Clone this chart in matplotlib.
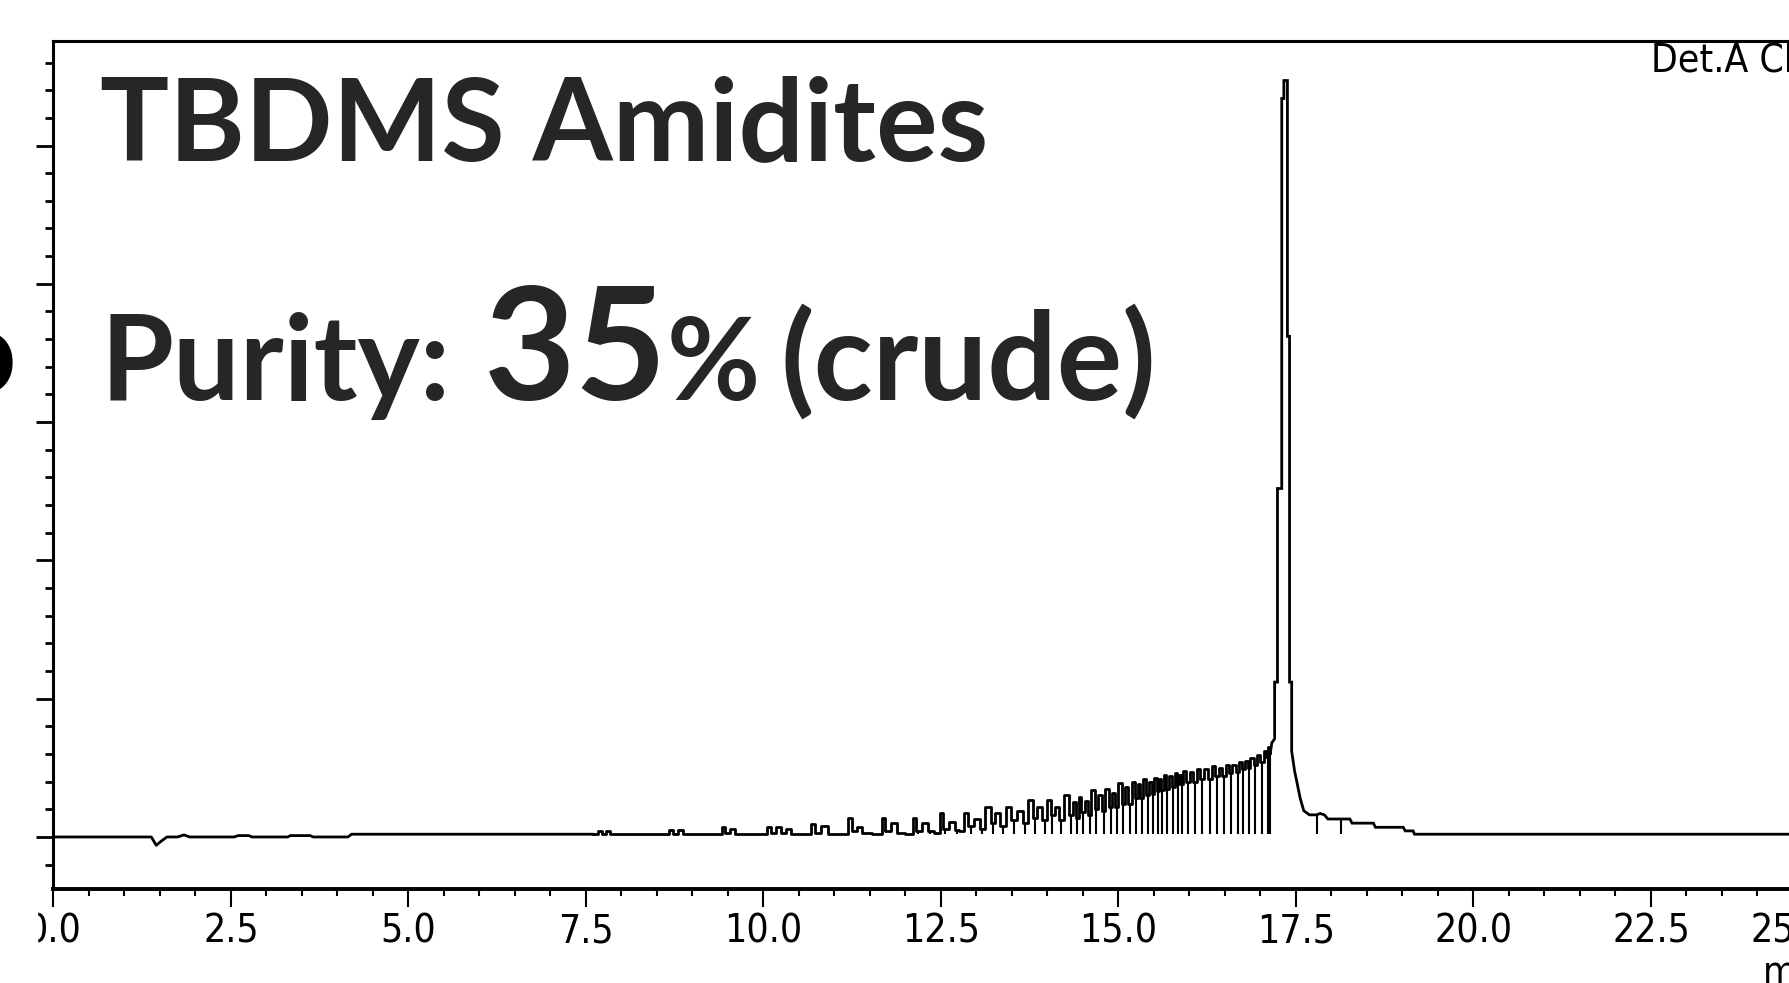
import numpy as np
import matplotlib.pyplot as plt
from matplotlib import font_manager
from matplotlib.ticker import MultipleLocator
from matplotlib.patches import Rectangle

W, H = 1790, 983
slide = ['Lato', 'Open Sans', 'DejaVu Sans']
ink = '#262626'

# baseline section (min, signal)
base_t = [0.0, 1.38, 1.45, 1.52, 1.60, 1.75, 1.84, 1.92, 2.55, 2.60, 2.75, 2.80,
          3.30, 3.34, 3.62, 3.66, 4.15, 4.20, 7.60]
base_y = [0, 0, -6, -3, 0, 0, 1.5, 0, 0, 1, 1, 0, 0, 1, 1, 0, 0, 2, 2]

# failure-sequence ladder: peak tops and the valleys after them
peak_t = [7.70, 7.82, 8.70, 8.84, 9.44, 9.58, 10.08, 10.22, 10.36, 10.70, 10.88,
          11.22, 11.36, 11.69, 11.85, 12.13, 12.29, 12.51, 12.67, 12.85, 13.01,
          13.17, 13.29, 13.45, 13.61, 13.77, 13.89, 14.02, 14.13, 14.27, 14.38,
          14.46, 14.55, 14.64, 14.74, 14.84, 14.93, 15.02, 15.11, 15.21, 15.29,
          15.37, 15.45, 15.52, 15.59, 15.65, 15.73, 15.81, 15.87, 15.93, 16.03,
          16.13, 16.23, 16.34, 16.44, 16.53, 16.63, 16.72, 16.80, 16.88, 16.97,
          17.07, 17.12]
peak_y = [4.5, 4.5, 5, 5, 7, 6, 7, 7, 6, 9.5, 8,
          14, 7, 14, 10, 14, 10, 17, 11, 17, 13,
          22, 17, 22, 19, 27, 22, 27, 22, 30, 25,
          29, 26, 34, 30, 35, 32, 39, 36, 40, 38,
          42, 40, 43, 42, 45, 44, 46, 45, 48, 47,
          49, 49, 51, 50, 52, 52, 54, 55, 57, 59,
          62, 65]
valley_t = [7.75, 7.87, 8.75, 8.89, 9.49, 9.63, 10.13, 10.27, 10.41, 10.75, 10.93,
            11.27, 11.41, 11.74, 11.90, 12.18, 12.34, 12.56, 12.72, 12.92, 13.08,
            13.23, 13.37, 13.53, 13.69, 13.83, 13.96, 14.07, 14.19, 14.33, 14.42,
            14.50, 14.60, 14.69, 14.79, 14.89, 14.98, 15.07, 15.16, 15.25, 15.33,
            15.41, 15.49, 15.56, 15.62, 15.69, 15.77, 15.84, 15.90, 15.98, 16.08,
            16.18, 16.29, 16.39, 16.49, 16.58, 16.68, 16.76, 16.84, 16.93, 17.02,
            17.10, 17.14]
valley_y = [2, 2, 2.5, 2, 3, 2, 3, 3, 2, 3, 2,
            4, 3, 4, 3, 4, 4, 6, 5, 8, 6,
            10, 8, 12, 10, 14, 12, 16, 12, 16, 14,
            18, 16, 20, 19, 22, 22, 24, 24, 28, 28,
            30, 31, 33, 34, 35, 36, 38, 38, 40, 40,
            42, 42, 44, 44, 46, 47, 49, 50, 52, 54,
            58, 61]
# baseline feet in front of the isolated early peaks
foot_t = [7.65, 8.65, 9.39, 10.03, 10.65, 11.17, 11.64, 12.08, 12.46, 12.80]
foot_y = [2, 2, 2, 2, 2, 2, 2, 2, 3, 4]

# main peak and its tail (stepped detector trace)
main_t = [17.16, 17.20, 17.20, 17.24, 17.24, 17.30, 17.30, 17.33, 17.33, 17.38,
          17.38, 17.41, 17.41, 17.44, 17.44, 17.48, 17.56, 17.61, 17.69, 17.79,
          17.84, 17.90, 17.95, 18.26, 18.29, 18.59, 18.62, 19.01, 19.04, 19.15,
          19.17, 25.0]
main_y = [68, 71, 112, 112, 252, 252, 534, 534, 547, 547,
          362, 362, 112, 112, 62, 48, 28, 19, 16, 16,
          17, 16, 13, 13, 10, 10, 7, 7, 4.4, 4.4,
          2, 2]

# integration drop lines in the tail
tail_drop_t = [17.79, 18.14]
tail_drop_y = [16, 13]

xticks = [0.0, 2.5, 5.0, 7.5, 10.0, 12.5, 15.0, 17.5, 20.0, 22.5, 25.0]


def narrow_font(size):
    # the instrument printout uses a tall condensed face; take one if present
    for f in font_manager.fontManager.ttflist:
        squeezed = ('Narrow' in f.name or 'Condensed' in f.name
                    or f.stretch in ('condensed', 'semi-condensed', 'extra-condensed'))
        if squeezed and f.style == 'normal' and f.weight in (400, 'normal', 'regular', 'book'):
            return font_manager.FontProperties(fname=f.fname, size=size)
    return font_manager.FontProperties(family='DejaVu Sans', stretch='condensed', size=size)


lab_font = narrow_font(28)

fig = plt.figure(figsize=(W / 100, H / 100), dpi=100)
left, right, top, bottom = 53.3, 1828.5, 40.7, 888.7
ax = fig.add_axes([left / W, 1 - bottom / H, (right - left) / W, (bottom - top) / H])

ladder = sorted(zip(peak_t + valley_t + foot_t, peak_y + valley_y + foot_y))
lad_t = [p[0] for p in ladder]
lad_y = [p[1] for p in ladder]
ax.plot(base_t, base_y, color='black', lw=2.0)
ax.plot([base_t[-1]] + lad_t, [base_y[-1]] + lad_y, color='black', lw=2.0,
        drawstyle='steps-mid')
ax.plot([lad_t[-1]] + main_t, [lad_y[-1]] + main_y, color='black', lw=2.0,
        solid_joinstyle='miter')

drops = [(t, y) for t, y in zip(valley_t, valley_y) if t > 12.1]
ax.vlines([d[0] for d in drops], 2, [d[1] for d in drops], color='black', lw=1.5)
ax.vlines(tail_drop_t, 2, tail_drop_y, color='black', lw=1.5)

ax.set_xlim(0, 25)
ax.set_ylim(-37.4, 575.8)

ax.set_xticks(xticks)
ax.set_xticklabels(['%.1f' % v for v in xticks], fontproperties=lab_font)
ax.xaxis.set_minor_locator(MultipleLocator(0.5))
ax.yaxis.set_major_locator(MultipleLocator(100))
ax.yaxis.set_minor_locator(MultipleLocator(20))
ax.tick_params(axis='x', which='major', direction='out', length=13, width=1.5, pad=4)
ax.tick_params(axis='x', which='minor', direction='out', length=5, width=1.5)
ax.tick_params(axis='y', which='major', direction='out', length=12, width=2.0, labelleft=False)
ax.tick_params(axis='y', which='minor', direction='out', length=5.5, width=2.0)
ax.get_xticklabels()[-1].set_ha('right')

ax.spines['right'].set_visible(False)
ax.spines['left'].set_linewidth(2.2)
ax.spines['top'].set_linewidth(2.2)
ax.spines['bottom'].set_linewidth(2.8)

# detector header and unit label, right-aligned to the axis end
fig.text(right / W, 1 - 42 / H, 'Det.A Ch1', ha='right', va='top', fontproperties=lab_font)
fig.text(right / W, 1 - 984 / H, 'min', ha='right', va='baseline', fontproperties=lab_font)

# slide overlay text
fig.text(100 / W, 1 - 160 / H, 'TBDMS Amidites', family=slide, weight='bold',
         fontsize=83, color=ink, va='baseline')
fig.text(101 / W, 1 - 400 / H, 'Purity:', family=slide, weight='bold',
         fontsize=85, color=ink, va='baseline')
fig.text(484 / W, 1 - 400 / H, '35', family=slide, weight='bold',
         fontsize=114, color=ink, va='baseline')
fig.text(667 / W, 1 - 400 / H, '%', family=slide, weight='bold',
         fontsize=82, color=ink, va='baseline')
fig.text(781 / W, 1 - 400 / H, '(crude)', family=slide, weight='bold',
         fontsize=88, color=ink, va='baseline')
fig.text(17 / W, 1 - 393 / H, 'o', family=slide, weight='bold',
         fontsize=86, color='black', va='baseline', ha='right')

# slide crop hides the left of the first tick label
fig.add_artist(Rectangle((0, 0), 37 / W, 80 / H, transform=fig.transFigure,
                         color='white', zorder=10))

fig.savefig('out.png', dpi=100)
